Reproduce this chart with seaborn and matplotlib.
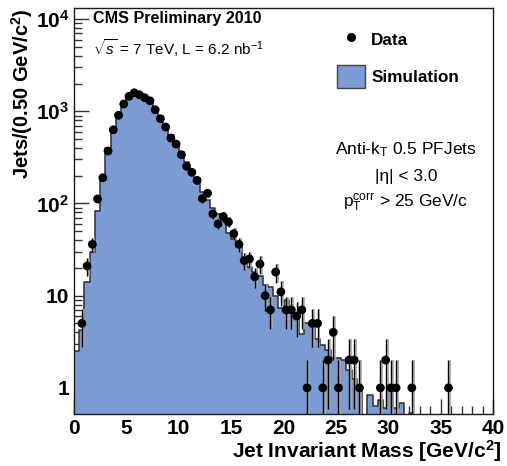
import numpy as np
import pandas as pd
import matplotlib
matplotlib.use("Agg")
import matplotlib.pyplot as plt
import seaborn as sns
from matplotlib.ticker import MultipleLocator, LogLocator, FixedLocator, FixedFormatter, NullFormatter
from matplotlib.lines import Line2D
from matplotlib.patches import Patch

# Jet invariant mass, 0.5 GeV bins from 0 to 40 GeV
bin_width = 0.5
mass_edges = [round(i * bin_width, 2) for i in range(81)]

# Observed jet counts per bin
data_counts = [
    0, 5, 21, 36, 112, 190, 371, 630, 904, 1199,
    1452, 1589, 1512, 1403, 1300, 1040, 831, 675, 513, 441,
    338, 253, 218, 178, 113, 129, 77, 60, 72, 63,
    47, 36, 24, 25, 16, 22, 10, 7, 18, 11,
    7, 7, 6, 7, 1, 5, 5, 1, 2, 4,
    1, 0, 2, 2, 1, 0, 0, 0, 1, 2,
    1, 1, 0, 0, 1, 0, 0, 0, 0, 0,
    0, 1, 0, 0, 0, 0, 0, 0, 0, 0,
]

# Simulated jet counts per bin (normalised to data)
sim_counts = [
    2.5, 4.25, 14, 30, 82, 195, 398, 600, 870, 1170,
    1460, 1620, 1560, 1450, 1320, 1080, 870, 710, 550, 450,
    365, 283, 231, 188, 134, 109, 89, 77, 66, 47.5,
    41, 34, 23.4, 20.6, 18.2, 16.4, 13.1, 12.5, 9.8, 7.3,
    9.0, 7.3, 6.2, 3.8, 5.1, 5.0, 3.4, 2.9, 2.6, 2.1,
    2.1, 2.0, 1.57, 1.24, 1.03, 0, 0.84, 0.63, 0.74, 0.6,
    0.95, 0.6, 0.68, 0, 0.53, 0, 0, 0, 0, 0,
    0, 0, 0, 0, 0, 0, 0, 0, 0, 0,
]

x_ticks = [0, 5, 10, 15, 20, 25, 30, 35, 40]
y_ticks = [1, 10, 100, 1000, 10000]
y_tick_labels = ["1", "10", r"$\mathbf{10^{2}}$", r"$\mathbf{10^{3}}$", r"$\mathbf{10^{4}}$"]

sim_color = "#7b9bd2"
outline_color = "#2e2e38"

sns.set_style("ticks")
plt.rcParams["font.family"] = ["Liberation Sans", "DejaVu Sans"]
plt.rcParams["mathtext.fontset"] = "custom"
plt.rcParams["mathtext.rm"] = "Liberation Sans"
plt.rcParams["mathtext.it"] = "Liberation Sans:italic"
plt.rcParams["mathtext.bf"] = "Liberation Sans:bold"
for key in ["text.color", "axes.labelcolor", "xtick.color", "ytick.color", "axes.edgecolor"]:
    plt.rcParams[key] = "black"

W, H = 507, 466
fig = plt.figure(figsize=(W / 100, H / 100), dpi=100)
ax = fig.add_axes([74 / W, 1 - 414 / H, (493 - 74) / W, (414 - 8) / H])
ax.set_yscale("log")

centers = [e + bin_width / 2 for e in mass_edges[:-1]]
hist_df = pd.DataFrame({"mass": centers, "sim": sim_counts, "data": data_counts})

# Simulation as a filled step histogram
sns.histplot(data=hist_df, x="mass", weights="sim", bins=mass_edges,
             element="step", fill=True, color=sim_color, alpha=1.0,
             edgecolor=outline_color, linewidth=1.1, ax=ax, zorder=2)

# Data points with Poisson errors
pts = hist_df[hist_df["data"] > 0].copy()
err = np.sqrt(pts["data"].to_numpy(dtype=float))
ax.errorbar(pts["mass"] + 0.18, pts["data"], yerr=err, fmt="none",
            ecolor="#a8a8a8", elinewidth=1.2, capsize=0, zorder=3)
ax.errorbar(pts["mass"], pts["data"], yerr=err, fmt="none",
            ecolor="black", elinewidth=1.0, capsize=0, zorder=4)
sns.scatterplot(data=pts, x="mass", y="data", color="black", s=40,
                edgecolor="none", ax=ax, zorder=5, legend=False)

ax.set_xlim(0, 40)
ax.set_ylim(0.52, 1.32e4)

# Axis ticks, inward on left and bottom only
ax.xaxis.set_major_locator(FixedLocator(x_ticks))
ax.xaxis.set_minor_locator(MultipleLocator(1))
ax.set_xticklabels([str(t) for t in x_ticks])
ax.yaxis.set_major_locator(FixedLocator(y_ticks))
ax.yaxis.set_major_formatter(FixedFormatter(y_tick_labels))
ax.yaxis.set_minor_locator(LogLocator(base=10, subs=np.arange(2, 10)))
ax.yaxis.set_minor_formatter(NullFormatter())
ax.tick_params(axis="both", which="major", direction="in", length=11, width=1.0,
               color="#333333", labelsize=15, top=False, right=False)
ax.tick_params(axis="both", which="minor", direction="in", length=5.5, width=1.0,
               color="#333333", top=False, right=False)
ax.tick_params(axis="x", which="major", pad=3.5)
ax.tick_params(axis="y", which="major", pad=3.5)
for lab in ax.get_xticklabels() + ax.get_yticklabels():
    lab.set_fontweight("bold")
for sp in ax.spines.values():
    sp.set_visible(True)
    sp.set_linewidth(1.0)
    sp.set_color("#1a1a1a")

xl = ax.set_xlabel(r"Jet Invariant Mass [GeV/c$^{\mathbf{2}}$]", fontsize=15,
                   fontweight="bold", loc="right")
xl.set_va("center")
ax.xaxis.set_label_coords((502 - 74) / 419, (414 - 451) / 406)
ax.set_ylabel(r"Jets/(0.50 GeV/c$^{\mathbf{2}}$)", fontsize=14.5,
              fontweight="bold", loc="top")
ax.yaxis.set_label_coords(-0.093, 1.0)

# Annotations
fig.text(93 / W, 1 - 18 / H, "CMS Preliminary 2010", fontsize=11.6,
         fontweight="bold", ha="left", va="center")
fig.text(93 / W, 1 - 48 / H, r"$\sqrt{s}$ = 7 TeV, L = 6.2 nb$^{-1}$",
         fontsize=11, ha="left", va="center")
fig.text(406 / W, 1 - 150 / H, r"Anti-k$_{\mathrm{T}}$ 0.5 PFJets", fontsize=12.5,
         ha="center", va="center")
fig.text(406 / W, 1 - 177 / H, "|η| < 3.0", fontsize=12.5, ha="center", va="center")
fig.text(406 / W, 1 - 202 / H, r"p$_{\mathrm{T}}^{\mathrm{corr}}$ > 25 GeV/c", fontsize=12.5,
         ha="center", va="center")

handles = [
    Line2D([], [], marker="o", color="black", linestyle="none", markersize=5.5),
    Patch(facecolor=sim_color, edgecolor="#444444", linewidth=1.0),
]
ax.legend(handles, ["Data", "Simulation"], loc="upper left",
          bbox_to_anchor=(337 / W, 1 - 28.5 / H), bbox_transform=fig.transFigure,
          frameon=False, prop={"size": 12.3, "weight": "bold"},
          handlelength=1.62, handleheight=1.62, labelspacing=0.86,
          handletextpad=0.38, borderpad=0, borderaxespad=0)

fig.savefig("out.png", dpi=100)
